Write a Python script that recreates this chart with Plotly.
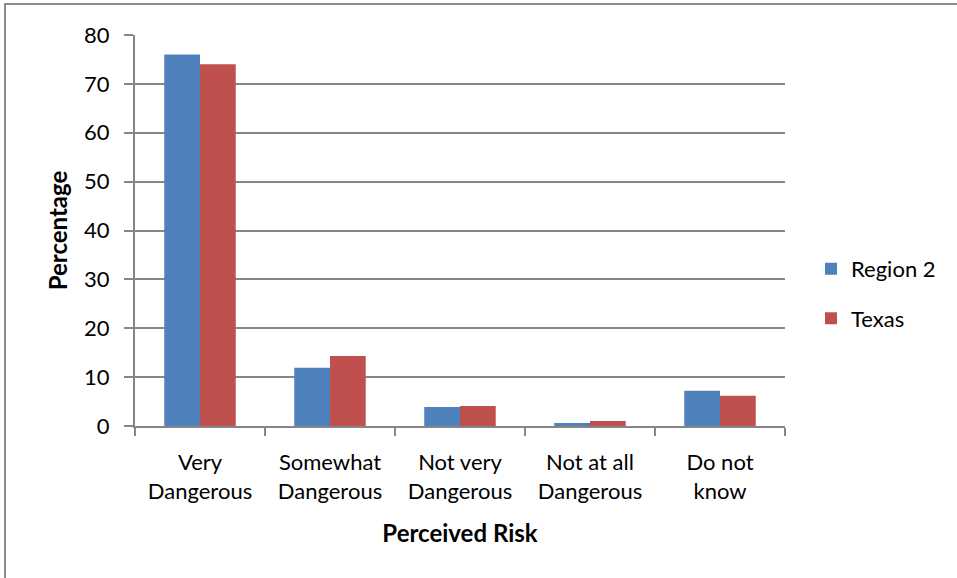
import plotly.graph_objects as go

categories = ["Very<br>Dangerous", "Somewhat<br>Dangerous", "Not very<br>Dangerous",
              "Not at all<br>Dangerous", "Do not<br>know"]
region2 = [76, 11.9, 3.9, 0.6, 7.2]
texas = [74, 14.3, 4.1, 1.0, 6.2]
y_ticks = [0, 10, 20, 30, 40, 50, 60, 70, 80]

FONT = "Lato"
GRID = "#868686"

fig = go.Figure()
fig.add_trace(go.Bar(name="Region 2", x=categories, y=region2, legendgroup="r2",
                     marker=dict(color="#4F81BD", line=dict(width=0))))
fig.add_trace(go.Bar(name="Texas", x=categories, y=texas, legendgroup="tx",
                     marker=dict(color="#C0504D", line=dict(width=0))))

fig.update_layout(
    width=957, height=578,
    margin=dict(l=135, r=172, t=35, b=152),
    paper_bgcolor="white", plot_bgcolor="white",
    barmode="group", bargap=0.45, bargroupgap=0,
    font=dict(family=FONT, size=22, color="black"),
    legend=dict(x=1.04, y=0.338, xanchor="left", yanchor="middle",
                font=dict(size=22), tracegroupgap=18, itemwidth=30),
    showlegend=True,
)
fig.update_xaxes(
    showline=True, linecolor=GRID, linewidth=2,
    tickson="boundaries", ticks="outside", ticklen=8, tickcolor=GRID, tickwidth=2,
    ticklabelstandoff=16,
    showgrid=False,
    title=dict(text="<b>Perceived Risk</b>", font=dict(size=24), standoff=22),
)
fig.update_yaxes(
    range=[0, 80], tickvals=y_ticks,
    showline=True, linecolor=GRID, linewidth=2,
    ticks="outside", ticklen=9, tickcolor=GRID, tickwidth=2,
    ticklabelstandoff=10,
    showgrid=True, gridcolor=GRID, gridwidth=2, zeroline=False,
    title=dict(text="<b>Percentage</b>", font=dict(size=24), standoff=10),
)

# chart area border
fig.add_shape(type="rect", xref="paper", yref="paper",
              x0=(5 - 135) / 650, x1=1.6, y0=-0.6, y1=(426 - 4) / 391,
              line=dict(color="#8c8c8c", width=2), layer="below")

fig.write_html("out.html")
